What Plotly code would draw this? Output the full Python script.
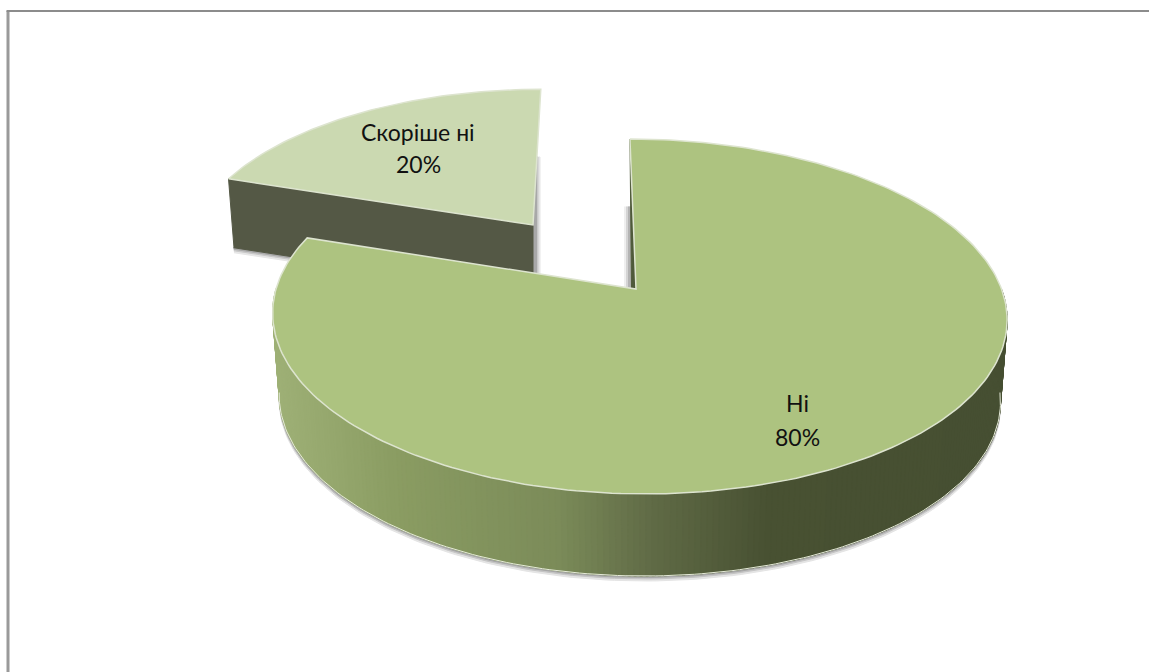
import numpy as np
import plotly.graph_objects as go

# ---- data ----
categories = ["Ні", "Скоріше ні"]
values = [80, 20]
colors_top = ["#ADC380", "#CBD9B1"]

W, H = 1149, 672
# projection of the pie disc onto the page (perspective view)
K = 0.155          # perspective strength
R_X_LEFT, R_X_RIGHT = 360.0, 365.5
R_Y = 173.2
DEPTH = 82.0       # height of the pie's wall
DEPTH_SCALE = 0.982
APEX_BIG = (636.0, 289.0)
SHEAR_BIG = -7.0
APEX_SMALL = (533.0, 225.0)
SHEAR_SMALL = 9.0
SCALE_SMALL = (0.94, 0.905)
DEPTH_SMALL = 69.0


def project(theta, rad, apex, shear, scale=(1.0, 1.0), depth=0.0):
    """theta in degrees clockwise from 12 o'clock, rad 0..1."""
    t = np.radians(theta)
    u, v = rad * np.sin(t), rad * np.cos(t)
    w = 1 + K * v
    rx = np.where(u < 0, R_X_LEFT, R_X_RIGHT)
    x = (rx * u * scale[0] + shear * v) / w
    y = -(R_Y * v) * scale[1] / w
    if depth:
        x = x * DEPTH_SCALE
        y = y + depth
    return apex[0] + x, apex[1] + y


def lerp_colour(a, b, f):
    c = [int(round(a[i] + (b[i] - a[i]) * f)) for i in range(3)]
    return f"rgb({c[0]},{c[1]},{c[2]})"


def poly(x, y, fill, line=None, lw=1.0):
    return go.Scatter(x=list(x), y=list(y), mode="lines", fill="toself", fillcolor=fill,
                      line=dict(color=line or fill, width=lw), hoverinfo="skip", showlegend=False)


fig = go.Figure()
total = sum(values)
sweeps = [v / total * 360 for v in values]
big_start, big_end = 0.0, sweeps[0]
small_start, small_end = sweeps[0], sweeps[0] + sweeps[1]

# --- exploded small slice ---
a = APEX_SMALL
x0, y0 = project(small_start, 1, a, SHEAR_SMALL, SCALE_SMALL)
bx0, by0 = project(small_start, 1, a, SHEAR_SMALL, SCALE_SMALL, DEPTH_SMALL)
bax, bay = project(small_start, 0, a, SHEAR_SMALL, SCALE_SMALL, DEPTH_SMALL)
# soft shadows (bottom edge and right-hand side)
for off, col in ((5, "#e6e6e6"), (3, "#c8c8c8"), (1.5, "#a8a8a8")):
    fig.add_trace(poly([bx0, bax + off, bax + off + 2, a[0] + off + 2, a[0], bx0 - 1],
                       [by0 + off, bay + off, bay, a[1] - 68, a[1] - 68, by0],
                       col))
# wedge cut face
fig.add_trace(poly([x0, a[0], bax, bx0, x0], [y0, a[1], bay, by0, y0], "#545845"))
# small top
arc = np.linspace(small_start, small_end, 60)
tx, ty = project(arc, 1, a, SHEAR_SMALL, SCALE_SMALL)
fig.add_trace(poly(list(tx) + [a[0], tx[0]], list(ty) + [a[1], ty[0]], colors_top[1], "#DDE4CF", 1.5))

# --- big slice ---
a = APEX_BIG
# shadow under the wall
arc = np.linspace(88, 272, 160)
for off, col in ((5, "#e4e4e4"), (3, "#c4c4c4"), (1.5, "#a6a6a6")):
    sx, sy = project(arc, 1, a, SHEAR_BIG, depth=DEPTH + off)
    fig.add_trace(poly(sx, sy, col))
# wall, coloured by horizontal position (left lit, right dark)
stops = [(0.0, (158, 176, 118)), (0.17, (138, 156, 98)), (0.39, (123, 139, 89)),
         (0.52, (96, 107, 70)), (0.68, (72, 81, 50)), (1.0, (70, 79, 50))]


def wall_colour(f):
    for (p0, c0), (p1, c1) in zip(stops, stops[1:]):
        if f <= p1:
            return lerp_colour(c0, c1, (max(f, p0) - p0) / (p1 - p0))
    return lerp_colour(stops[-1][1], stops[-1][1], 0)


angs = np.linspace(90, 270, 220)[::-1]
xl = project(270, 1, a, SHEAR_BIG)[0]
xr = project(90, 1, a, SHEAR_BIG)[0]
for i in range(len(angs) - 1):
    th = np.linspace(angs[i] + 0.2, angs[i + 1] - 0.2, 4)
    x1, y1 = project(th, 1, a, SHEAR_BIG)
    x2, y2 = project(th[::-1], 1, a, SHEAR_BIG, depth=DEPTH)
    f = float((np.mean(x1) - xl) / (xr - xl))
    fig.add_trace(poly(list(x1) + list(x2) + [x1[0]], list(y1) + list(y2) + [y1[0]], wall_colour(f)))
# lower rim highlight
ex, ey = project(np.linspace(97, 263, 160), 1, a, SHEAR_BIG, depth=DEPTH)
fig.add_trace(go.Scatter(x=ex, y=ey, mode="lines", line=dict(color="#E6EBD9", width=1),
                         hoverinfo="skip", showlegend=False))

# cut face of the big slice at 12 o'clock (thin sliver with a shadow)
x0, y0 = project(big_start, 1, a, SHEAR_BIG)
for off, col in ((12, "#efefef"), (10, "#d4d4d4"), (8, "#b4b4b4")):
    fig.add_trace(poly([a[0] - off, a[0] - 3, a[0] - 3, a[0] - off], [a[1], a[1], a[1] - 82, a[1] - 82], col))
fig.add_trace(poly([x0, a[0], a[0] - 4.5, x0], [y0, a[1], a[1], y0], "#4F5A3A"))
# big top
arc = np.linspace(big_start, big_end, 240)
tx, ty = project(arc, 1, a, SHEAR_BIG)
fig.add_trace(poly(list(tx) + [a[0], tx[0]], list(ty) + [a[1], ty[0]], colors_top[0], "#DDE4CF", 1.5))

# --- labels ---
label_pos = {"Ні": (797, 403, 437), "Скоріше ні": (418, 132, 164)}
for c, v in zip(categories, values):
    lx, ly1, ly2 = label_pos[c]
    for ly, txt in ((ly1, c), (ly2, f"{v}%")):
        fig.add_annotation(x=lx, y=ly, text=txt, showarrow=False,
                           font=dict(family="Lato, Noto Sans, sans-serif", size=23, color="#111111"),
                           align="center")

# --- frame ---
fig.add_shape(type="line", x0=8, x1=8, y0=11, y1=H, line=dict(color="#9A9A9A", width=3), layer="above")
fig.add_shape(type="line", x0=6.5, x1=W, y0=11, y1=11, line=dict(color="#8C8C8C", width=2), layer="above")

fig.update_layout(
    width=W, height=H, margin=dict(l=0, r=0, t=0, b=0),
    paper_bgcolor="white", plot_bgcolor="white", showlegend=False,
    xaxis=dict(range=[0, W], visible=False, fixedrange=True),
    yaxis=dict(range=[H, 0], visible=False, fixedrange=True),
)
fig.write_html("out.html", config={"displayModeBar": False},
               post_script="document.body.style.margin='0';document.body.style.overflow='hidden';")
